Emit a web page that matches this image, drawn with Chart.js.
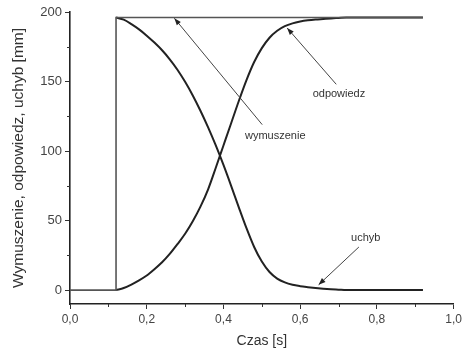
<!DOCTYPE html>
<html>
<head>
<meta charset="utf-8">
<script src="https://cdn.jsdelivr.net/npm/chart.js@4/dist/chart.umd.min.js"></script>
<style>
html,body{margin:0;padding:0;background:#fff;}
#wrap{width:465px;height:354px;position:relative;}
</style>
</head>
<body>
<div id="wrap"><canvas id="c" width="465" height="354"></canvas></div>
<script>
// ---- data ----
const time = [0.12,0.14,0.16,0.18,0.20,0.22,0.24,0.26,0.28,0.30,0.32,0.34,0.36,0.38,0.40,0.42,0.44,0.46,0.48,0.50,0.52,0.54,0.56,0.58,0.60,0.62,0.64,0.66,0.68,0.70,0.72,0.80,0.92];
const odpowiedz = [0,1.5,4,7,10.5,15,20,26,33,40.5,49.5,60,72.5,88,104,120,136,151,164,174,181.5,186.5,189.8,191.8,193.1,194,194.6,195,195.4,195.7,196,196,196];
const uchyb = [196,194.5,191.3,187.5,183,178,172.5,166,158.5,149.8,140,129,117,104,90,75,59.5,44.5,31,20.5,13,8.3,5.5,3.8,2.8,2.1,1.5,1.0,0.6,0.3,0,0,0];
const wymTime = [0,0.12,0.12,0.92];
const wymuszenie = [0,0,196,196];
const xTicks = [0,0.2,0.4,0.6,0.8,1.0];
const yTicks = [0,50,100,150,200];
const xMinor = [0.1,0.3,0.5,0.7,0.9];
const yMinor = [25,75,125,175];
const labels = ['wymuszenie','odpowiedz','uchyb'];

// annotation layout (data coordinates): text anchor, arrow start, arrow tip
const notes = [
  {text: labels[0], tx: 0.535, ty: 111, sx: 0.501, sy: 119, ex: 0.272, ey: 195.5},
  {text: labels[1], tx: 0.701, ty: 141, sx: 0.694, sy: 148, ex: 0.566, ey: 188.5},
  {text: labels[2], tx: 0.771, ty: 37.5, sx: 0.753, sy: 31, ex: 0.648, ey: 3.8}
];

const toPts = (xs, ys) => xs.map((x, i) => ({x: x, y: ys[i]}));

const extras = {
  id: 'extras',
  afterDraw(chart) {
    const ctx = chart.ctx;
    const xs = chart.scales.x, ys = chart.scales.y;
    ctx.save();
    // minor ticks
    ctx.strokeStyle = '#333';
    ctx.lineWidth = 1;
    const ay = ys.bottom;
    ctx.beginPath();
    yMinor.forEach(v => {
      const p = Math.round(ys.getPixelForValue(v)) + 0.5;
      ctx.moveTo(xs.left - 3, p); ctx.lineTo(xs.left, p);
    });
    xMinor.forEach(v => {
      const p = Math.round(xs.getPixelForValue(v)) + 0.5;
      ctx.moveTo(p, ay); ctx.lineTo(p, ay + 3);
    });
    ctx.stroke();
    // annotations
    ctx.font = '11px "Liberation Sans", Arial, sans-serif';
    ctx.textAlign = 'center';
    ctx.textBaseline = 'middle';
    notes.forEach(n => {
      const sx = xs.getPixelForValue(n.sx), sy = ys.getPixelForValue(n.sy);
      const ex = xs.getPixelForValue(n.ex), ey = ys.getPixelForValue(n.ey);
      ctx.strokeStyle = '#444';
      ctx.lineWidth = 1;
      ctx.beginPath(); ctx.moveTo(sx, sy); ctx.lineTo(ex, ey); ctx.stroke();
      const ang = Math.atan2(ey - sy, ex - sx);
      const L = 7, W = 2.6;
      ctx.beginPath();
      ctx.moveTo(ex, ey);
      ctx.lineTo(ex - L * Math.cos(ang) + W * Math.sin(ang), ey - L * Math.sin(ang) - W * Math.cos(ang));
      ctx.lineTo(ex - L * Math.cos(ang) - W * Math.sin(ang), ey - L * Math.sin(ang) + W * Math.cos(ang));
      ctx.closePath();
      ctx.fillStyle = '#222';
      ctx.fill();
      ctx.fillStyle = '#333';
      ctx.fillText(n.text, xs.getPixelForValue(n.tx), ys.getPixelForValue(n.ty));
    });
    ctx.restore();
  }
};

const FONT = '"Liberation Sans", Arial, sans-serif';

new Chart(document.getElementById('c'), {
  type: 'line',
  data: {
    datasets: [
      {label: labels[0], data: toPts(wymTime, wymuszenie), borderColor: '#555', borderWidth: 1.6, pointRadius: 0, tension: 0, fill: false},
      {label: labels[1], data: toPts(time, odpowiedz), borderColor: '#222', borderWidth: 2, pointRadius: 0, cubicInterpolationMode: 'monotone', fill: false},
      {label: labels[2], data: toPts(time, uchyb), borderColor: '#222', borderWidth: 2, pointRadius: 0, cubicInterpolationMode: 'monotone', fill: false}
    ]
  },
  options: {
    responsive: false,
    animation: false,
    layout: {padding: {top: 12, right: 10, left: 0, bottom: 0}},
    plugins: {legend: {display: false}, tooltip: {enabled: false}},
    scales: {
      x: {
        type: 'linear', min: 0, max: 1.0,
        afterBuildTicks: s => { s.ticks = xTicks.map(v => ({value: v})); },
        afterFit: s => { s.height = 50; },
        grid: {drawOnChartArea: false, drawTicks: true, tickLength: 5, color: '#333', tickWidth: 1},
        border: {display: true, color: '#222', width: 1.6},
        ticks: {color: '#444', font: {size: 12, family: FONT}, padding: 3, maxRotation: 0,
          callback: v => v.toFixed(1).replace('.', ',')},
        title: {display: true, text: 'Czas [s]', color: '#333', font: {size: 14, family: FONT}, padding: {top: 0, bottom: 4}}
      },
      y: {
        type: 'linear', min: -10, max: 200,
        afterBuildTicks: s => { s.ticks = yTicks.map(v => ({value: v})); },
        afterFit: s => { s.width = 70; },
        grid: {drawOnChartArea: false, drawTicks: true, tickLength: 5, color: '#333', tickWidth: 1},
        border: {display: true, color: '#222', width: 1.6},
        ticks: {color: '#444', font: {size: 13, family: FONT}, padding: 3,
          callback: v => String(v)},
        title: {display: true, text: 'Wymuszenie, odpowiedz, uchyb [mm]', color: '#333', font: {size: 15.5, family: FONT}, padding: {top: 9, bottom: 0}}
      }
    }
  },
  plugins: [extras]
});
</script>
</body>
</html>
